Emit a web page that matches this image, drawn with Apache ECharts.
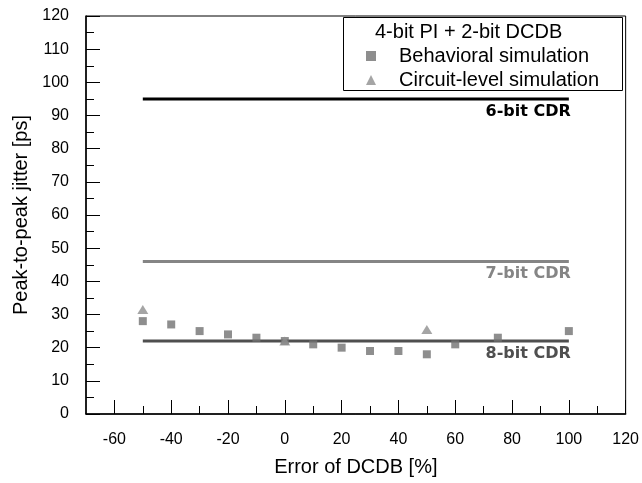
<!DOCTYPE html>
<html>
<head>
<meta charset="utf-8">
<script src="https://cdn.jsdelivr.net/npm/echarts@6/dist/echarts.min.js"></script>
<style>html,body{margin:0;padding:0;background:#fff}#c{width:642px;height:483px}</style>
</head>
<body>
<div id="c"></div>
<script>
var errX = [-50, -40, -30, -20, -10, 0, 10, 20, 30, 40, 50, 60, 75, 100];
var behavioral = [28, 27, 25, 24, 23, 22, 21, 20, 19, 19, 18, 21, 23, 25];
var circuitX = [-50, 0, 50];
var circuit = [31.5, 22, 25.5];
var cdrNames = ['6-bit CDR', '7-bit CDR', '8-bit CDR'];
var cdrJitter = [95, 46, 22];
var cdrRange = [-50, 100];
var cdrColors = ['#000000', '#858585', '#4f4f4f'];
var xMajor = [-60, -40, -20, 0, 20, 40, 60, 80, 100, 120];
var xMinor = [-50, -30, -10, 10, 30, 50, 70, 90, 110];
var legendTitle = '4-bit PI + 2-bit DCDB';
var seriesNames = ['Behavioral simulation', 'Circuit-level simulation'];

var FONT = 'Liberation Sans, Arial, sans-serif';
var chart = echarts.init(document.getElementById('c'));

var series = [];
cdrNames.forEach(function (n, i) {
  series.push({
    type: 'line', name: n, xAxisIndex: 0, yAxisIndex: 0,
    symbol: 'circle', symbolSize: 1, showSymbol: true, silent: true, animation: false,
    itemStyle: { color: 'rgba(0,0,0,0)' },
    lineStyle: { color: cdrColors[i], width: 3 },
    label: { show: false },
    data: [
      [cdrRange[0], cdrJitter[i]],
      { value: [cdrRange[1], cdrJitter[i]], label: { show: true, formatter: n, position: 'bottom', align: 'right', distance: 4, offset: [2, 0], color: cdrColors[i], fontFamily: 'DejaVu Sans, Verdana, sans-serif', fontWeight: 'bold', fontSize: 16 } }
    ],
    z: 2
  });
});
series.push({
  type: 'scatter', name: seriesNames[0], symbol: 'rect', symbolSize: 8,
  itemStyle: { color: '#727272' }, animation: false, z: 3,
  data: errX.map(function (x, i) { return [x, behavioral[i]]; })
});
series.push({
  type: 'scatter', name: seriesNames[1], symbol: 'triangle', symbolSize: [11, 9],
  itemStyle: { color: '#8e8e8e' }, animation: false, z: 4,
  data: circuitX.map(function (x, i) { return [x, circuit[i]]; })
});

chart.setOption({
  backgroundColor: '#fff',
  animation: false,
  grid: { left: 86, right: 16, top: 16, bottom: 69, show: true, borderColor: '#000', borderWidth: 1 },
  xAxis: [{
    type: 'value', min: -70, max: 120,
    name: 'Error of DCDB [%]', nameLocation: 'middle', nameGap: 43,
    nameTextStyle: { fontFamily: FONT, fontSize: 20, color: '#000' },
    axisLine: { onZero: false, lineStyle: { color: '#000', width: 1.5 } },
    axisTick: { inside: true, length: 14, customValues: xMajor, lineStyle: { color: '#000', width: 1 } },
    axisLabel: { customValues: xMajor, margin: 18, fontFamily: FONT, fontSize: 16, color: '#000' },
    splitLine: { show: false }
  }, {
    type: 'value', min: -70, max: 120, position: 'bottom',
    axisLine: { show: false },
    axisTick: { inside: true, length: 8, customValues: xMinor, lineStyle: { color: '#000', width: 1 } },
    axisLabel: { show: false },
    splitLine: { show: false }
  }],
  yAxis: [{
    type: 'value', min: 0, max: 120, interval: 10,
    name: 'Peak-to-peak jitter [ps]', nameLocation: 'middle', nameGap: 54, nameRotate: 90,
    nameTextStyle: { fontFamily: FONT, fontSize: 20, color: '#000' },
    axisLine: { show: true, onZero: false, lineStyle: { color: '#000', width: 1.5 } },
    axisTick: { show: true, inside: true, length: 14, lineStyle: { color: '#000' } },
    minorTick: { show: true, splitNumber: 2, length: 8, lineStyle: { color: '#000' } },
    axisLabel: { margin: 17, fontFamily: FONT, fontSize: 16, color: '#000' },
    splitLine: { show: false }
  }],
  legend: {
    data: seriesNames, orient: 'vertical', left: 366, top: 46, z: 20, padding: 0,
    itemWidth: 10, itemHeight: 10, itemGap: 4,
    textStyle: { fontFamily: FONT, fontSize: 20, color: '#000', padding: [0, 0, 0, 18] }
  },
  graphic: [
    { type: 'rect', shape: { x: 343.5, y: 17.5, width: 279, height: 73 }, style: { fill: '#fff', stroke: '#000', lineWidth: 1 }, z: 1 },
    { type: 'text', x: 375, y: 32, style: { text: legendTitle, font: '20px ' + FONT, fill: '#000', verticalAlign: 'middle' }, z: 11 }
  ],
  series: series
});
</script>
</body>
</html>
